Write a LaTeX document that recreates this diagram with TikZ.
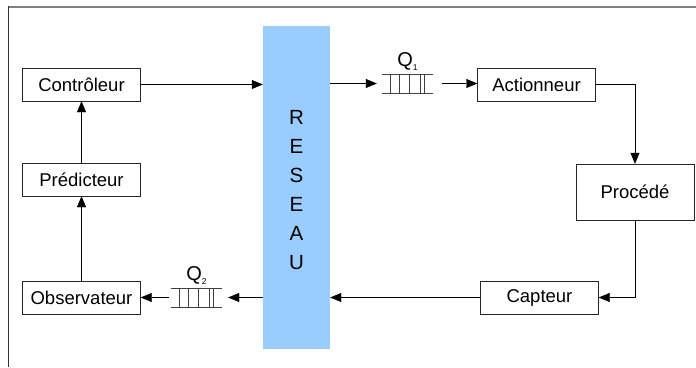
\documentclass[tikz,border=0pt]{standalone}
\usepackage{fontspec}
\setmainfont{Liberation Sans}
\usetikzlibrary{positioning,arrows.meta}

\definecolor{bleureseau}{HTML}{99CCFF}

\tikzset{
  bloc/.style={draw=black!85, minimum width=118pt, minimum height=33pt, inner sep=0pt,
    font=\fontsize{18.5}{20}\selectfont},
  fleche/.style={-{Triangle[length=11pt,width=9pt]}, black},
  file/.style={minimum width=51pt, minimum height=18pt, inner sep=0pt},
}

\begin{document}
\begin{tikzpicture}[x=1pt,y=-1pt]
  \useasboundingbox (0,0) rectangle (696,367);
  % cadre
  \draw[gray, line width=2pt] (8,7) -- (696,7);
  \draw[black!80] (8.5,6) -- (8.5,367);

  % reseau
  \node[fill=bleureseau, minimum width=67pt, minimum height=323pt, inner sep=0pt] (res) at (296.5,187.5) {};
  \node[align=center, font=\fontsize{20.5}{29}\selectfont] (lettres) at (296.5,190) {R\\E\\S\\E\\A\\U};

  % blocs
  \node[bloc] (ctrl) at (81.5,84.5) {Contrôleur};
  \node[bloc] (pred) at (81.5,179.5) {Prédicteur};
  \node[bloc] (obs)  at (81.5,297.5) {Observateur};
  \node[bloc] (act)  at (536.5,84.5) {Actionneur};
  \node[bloc, minimum height=56pt] (proc) at (635,192) {Procédé};
  \node[bloc] (capt) at (539.5,297.5) {Capteur};

  % files d'attente
  \node[file] (q1) at (407.5,83.5) {};
  \node[file] (q2) at (196.5,297.5) {};
  \foreach \q in {q1,q2} {
    \draw[black!75] (\q.north west) -- (\q.north east) (\q.south west) -- (\q.south east);
    \foreach \dx in {8,17,27,38,42}
      \draw[black!75] ([xshift=\dx pt]\q.north west) -- ([xshift=\dx pt]\q.south west);
  }
  \node[font=\fontsize{20}{22}\selectfont, above=0pt of q1] (lq1) {Q\raisebox{-4pt}{\fontsize{8.5}{8.5}\selectfont 1}};
  \node[font=\fontsize{20}{22}\selectfont, above=0pt of q2] (lq2) {Q\raisebox{-4pt}{\fontsize{8.5}{8.5}\selectfont 2}};

  % liaisons
  \draw[fleche] (ctrl.east) -- (res.west |- ctrl.east);
  \draw[fleche, shorten >=5pt] (res.east |- q1.west) -- (q1.west);
  \draw[fleche, shorten <=9pt] (q1.east) -- (act.west |- q1.east);
  \draw[fleche] (act.east) -| (proc.north);
  \draw[fleche] (proc.south) |- (capt.east);
  \draw[fleche] (capt.west) -- (res.east |- capt.west);
  \draw[fleche, shorten >=6pt] (res.west |- q2.east) -- (q2.east);
  \draw[fleche, shorten <=2pt] (q2.west) -- (obs.east);
  \draw[fleche] (obs.north) -- (pred.south);
  \draw[fleche] (pred.north) -- (ctrl.south);
\end{tikzpicture}
\end{document}
